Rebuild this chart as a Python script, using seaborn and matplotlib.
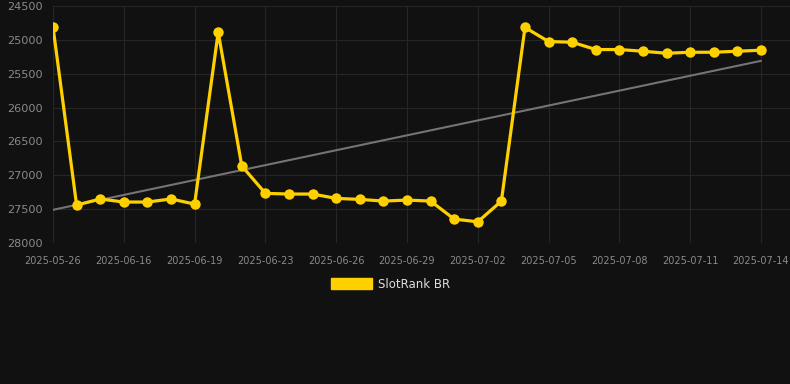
"""Posición de SlotRank BR en el tiempo (eje y invertido) con línea de tendencia."""
import matplotlib
matplotlib.use("Agg")
import matplotlib.pyplot as plt
from matplotlib.patches import Patch
import numpy as np
import pandas as pd
import seaborn as sns

# --- datos ---
dates = [
    "2025-05-26", "2025-06-14", "2025-06-15", "2025-06-16", "2025-06-17",
    "2025-06-18", "2025-06-19", "2025-06-21", "2025-06-22", "2025-06-23",
    "2025-06-24", "2025-06-25", "2025-06-26", "2025-06-27", "2025-06-28",
    "2025-06-29", "2025-06-30", "2025-07-01", "2025-07-02", "2025-07-03",
    "2025-07-04", "2025-07-05", "2025-07-06", "2025-07-07", "2025-07-08",
    "2025-07-09", "2025-07-10", "2025-07-11", "2025-07-12", "2025-07-13",
    "2025-07-14",
]
rank = [
    24810, 27440, 27350, 27395, 27395, 27350, 27425, 24887, 26862, 27267,
    27277, 27277, 27341, 27356, 27381, 27366, 27381, 27647, 27687, 27381,
    24817, 25025, 25035, 25143, 25143, 25168, 25198, 25183, 25183, 25168,
    25153,
]
trend_start, trend_end = 27510, 25310
y_ticks = [24500, 25000, 25500, 26000, 26500, 27000, 27500, 28000]
series_name = "SlotRank BR"

BG = "#111111"
GOLD = "#ffd000"
TICK = "#8a8a8a"
GRID = "#262626"

df = pd.DataFrame({"idx": np.arange(len(dates)), "rank": rank})

sns.set_style("dark")
fig = plt.figure(figsize=(7.9, 3.84), dpi=100, facecolor=BG)
ax = fig.add_axes([53 / 790, 1 - 243 / 384, 737 / 790, 237 / 384])
ax.set_facecolor(BG)

# línea de tendencia
ax.plot([0, len(dates) - 1], [trend_start, trend_end], color="#747474", lw=1.5, zorder=2)

sns.lineplot(data=df, x="idx", y="rank", ax=ax, color=GOLD, lw=2.3,
             marker="o", markersize=7.5, markeredgewidth=0, zorder=3,
             solid_joinstyle="miter")

ax.set_ylim(28000, 24500)
ax.set_xlim(0, len(dates) - 1 + 1.23)
ax.set_yticks(y_ticks)
ax.set_yticklabels([str(v) for v in y_ticks])
xt = list(range(0, len(dates), 3))
ax.set_xticks(xt)
ax.set_xticklabels([dates[i] for i in xt])
ax.set_xlabel(""); ax.set_ylabel("")

ax.grid(True, color=GRID, lw=0.8)
for s in ax.spines.values():
    s.set_visible(False)
ax.tick_params(axis="y", colors=TICK, labelsize=8.1, length=0, pad=7.5)
ax.tick_params(axis="x", colors=TICK, labelsize=7, length=5, width=0.8,
               pad=4, direction="out")
ax.tick_params(axis="x", color="#2a2a2a")

fig.legend(handles=[Patch(facecolor=GOLD, edgecolor=GOLD)], labels=[series_name],
           loc="center", bbox_to_anchor=(0.494, 1 - 284 / 384), frameon=False,
           handlelength=3.45, handleheight=0.95, handletextpad=0.5,
           fontsize=8.5, labelcolor="#dddddd")

fig.savefig("out.png", dpi=100, facecolor=BG)
plt.close(fig)
